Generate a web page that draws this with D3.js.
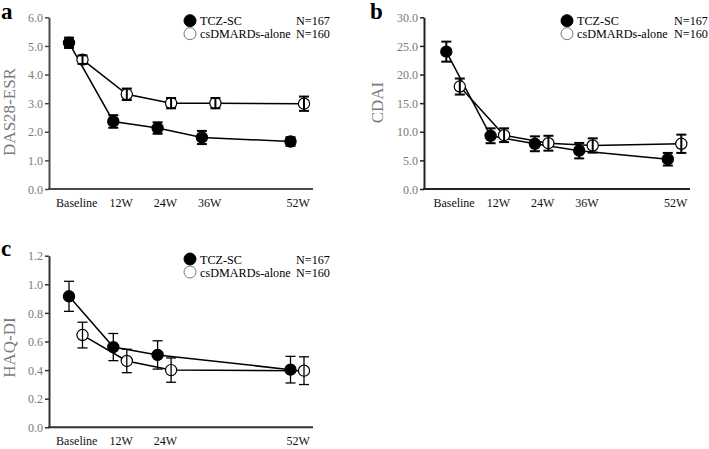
<!DOCTYPE html>
<html>
<head>
<meta charset="utf-8">
<script src="https://cdn.jsdelivr.net/npm/d3@7"></script>
<style>
  html, body { margin: 0; padding: 0; background: #fff; }
  svg { display: block; }
  svg text { font-family: "Liberation Serif", "Times New Roman", serif; }
</style>
</head>
<body>
<svg id="chart" width="709" height="449" font-family="Liberation Serif, serif"></svg>
<script>
// ---- data ----
const timepoints = ["Baseline", "12W", "24W", "36W", "52W"];
const timeSlots = [0, 1, 2, 3, 5];
const timepointsC = ["Baseline", "12W", "24W", "52W"];
const timeSlotsC = [0, 1, 2, 5];
const seriesNames = ["TCZ-SC", "csDMARDs-alone"];
const seriesN = ["N=167", "N=160"];

const das28Tcz = [5.11, 2.36, 2.13, 1.80, 1.66];
const das28TczErr = [0.18, 0.22, 0.20, 0.23, 0.15];
const das28Cs = [4.52, 3.31, 3.00, 3.00, 2.98];
const das28CsErr = [0.15, 0.20, 0.18, 0.18, 0.25];
const das28Ticks = [0, 1, 2, 3, 4, 5, 6];

const cdaiTcz = [24.0, 9.3, 7.9, 6.7, 5.2];
const cdaiTczErr = [1.75, 1.3, 1.3, 1.35, 1.1];
const cdaiCs = [17.9, 9.4, 8.0, 7.6, 7.9];
const cdaiCsErr = [1.4, 1.2, 1.3, 1.25, 1.6];
const cdaiTicks = [0, 5, 10, 15, 20, 25, 30];

const haqTcz = [0.916, 0.561, 0.506, 0.403];
const haqTczErr = [0.105, 0.095, 0.099, 0.093];
const haqCs = [0.645, 0.464, 0.400, 0.396];
const haqCsErr = [0.090, 0.082, 0.085, 0.097];
const haqTicks = [0, 0.2, 0.4, 0.6, 0.8, 1.0, 1.2];

// ---- drawing ----
const svg = d3.select("#chart");
const FONT = "Liberation Serif, serif";

function drawPanel(cfg) {
  const g = svg.append("g");
  const y = d3.scaleLinear().domain([cfg.ticks[0], cfg.ticks[cfg.ticks.length - 1]])
    .range([cfg.yBottom, cfg.yTop]);
  const x = d3.scaleLinear().domain([0, 5]).range([cfg.xFirst, cfg.xFirst + 5 * 44.3]);
  const dx = 13.5;

  // axes
  const yAxis = d3.axisLeft(y).tickValues(cfg.ticks).tickSize(4).tickSizeOuter(0)
    .tickFormat(d3.format(".1f"));
  const ya = g.append("g").attr("transform", `translate(${cfg.axisX},0)`).call(yAxis)
    .attr("font-family", FONT);
  ya.select(".domain").attr("stroke", cfg.axisColor).attr("stroke-width", 2);
  ya.selectAll(".tick line").attr("stroke", cfg.axisColor).attr("stroke-width", 1.5);
  ya.selectAll(".tick text").attr("fill", "#7a7a7a").attr("font-size", 12)
    .attr("font-family", FONT).attr("x", -6).attr("dy", "0.35em");

  g.append("line").attr("x1", cfg.axisX - 1).attr("x2", cfg.axisRight)
    .attr("y1", y(0)).attr("y2", y(0))
    .attr("stroke", cfg.axisColor).attr("stroke-width", 2);

  // x labels
  g.selectAll(".xl").data(cfg.labels).enter().append("text")
    .attr("x", (d, i) => x(cfg.slots[i]) + dx / 2 + 1)
    .attr("y", cfg.yBottom + 18)
    .attr("text-anchor", "middle").attr("font-size", 12).attr("fill", "#111")
    .attr("font-family", FONT)
    .text(d => d);

  // y title
  g.append("text")
    .attr("transform", `translate(${cfg.titleX},${cfg.titleY}) rotate(-90)`)
    .attr("text-anchor", "middle").attr("font-size", 17).attr("fill", "#7a7a7a")
    .attr("font-family", FONT)
    .text(cfg.title);

  // panel letter
  g.append("text").attr("x", cfg.letterX).attr("y", cfg.letterY)
    .attr("font-size", 23).attr("font-weight", "bold").attr("fill", "#000")
    .attr("font-family", FONT)
    .text(cfg.letter);

  const series = [
    { vals: cfg.tcz, errs: cfg.tczErr, off: 0, fill: "#000" },
    { vals: cfg.cs, errs: cfg.csErr, off: dx, fill: "#fff" }
  ];
  const line = d3.line().x(d => d[0]).y(d => d[1]);
  series.forEach(s => {
    const pts = s.vals.map((v, i) => [x(cfg.slots[i]) + s.off, y(v)]);
    g.append("path").attr("d", line(pts)).attr("fill", "none")
      .attr("stroke", "#000").attr("stroke-width", 1.5);
  });
  series.forEach(s => {
    const pts = s.vals.map((v, i) => ({ px: x(cfg.slots[i]) + s.off, v, e: s.errs[i] }));
    g.selectAll(null).data(pts).enter().append("circle")
      .attr("cx", d => d.px).attr("cy", d => y(d.v)).attr("r", 5.6)
      .attr("fill", s.fill).attr("stroke", "#000").attr("stroke-width", 1.2);
    const eb = g.selectAll(null).data(pts).enter().append("g")
      .attr("stroke", "#000").attr("stroke-width", cfg.errWidth);
    eb.append("line").attr("x1", d => d.px).attr("x2", d => d.px)
      .attr("y1", d => y(d.v - d.e)).attr("y2", d => y(d.v + d.e));
    eb.append("line").attr("x1", d => d.px - 5).attr("x2", d => d.px + 5)
      .attr("y1", d => y(d.v - d.e)).attr("y2", d => y(d.v - d.e));
    eb.append("line").attr("x1", d => d.px - 5).attr("x2", d => d.px + 5)
      .attr("y1", d => y(d.v + d.e)).attr("y2", d => y(d.v + d.e));
  });

  // legend
  const lg = g.append("g");
  [0, 1].forEach(i => {
    const ly = cfg.legendY + i * 13;
    lg.append("circle").attr("cx", cfg.legendX).attr("cy", ly).attr("r", 6)
      .attr("fill", i === 0 ? "#000" : "#fff").attr("stroke", i === 0 ? "#000" : "#777")
      .attr("stroke-width", 1);
    lg.append("text").attr("x", cfg.legendX + 10).attr("y", ly + 4.5)
      .attr("font-size", 12.2).attr("fill", "#000").attr("font-family", FONT)
      .text(seriesNames[i]);
    lg.append("text").attr("x", cfg.legendNX).attr("y", ly + 4.5)
      .attr("font-size", 12.2).attr("fill", "#000").attr("font-family", FONT)
      .text(seriesN[i]);
  });
}

drawPanel({
  letter: "a", letterX: 1, letterY: 19,
  title: "DAS28-ESR", titleX: 15, titleY: 112,
  ticks: das28Ticks, yTop: 17.3, yBottom: 189,
  axisX: 49, axisRight: 313, axisColor: "#4a4a4a",
  xFirst: 69, labels: timepoints, slots: timeSlots,
  tcz: das28Tcz, tczErr: das28TczErr, cs: das28Cs, csErr: das28CsErr,
  errWidth: 2, legendX: 190, legendY: 20.7, legendNX: 296
});

drawPanel({
  letter: "b", letterX: 370, letterY: 19,
  title: "CDAI", titleX: 383, titleY: 102.5,
  ticks: cdaiTicks, yTop: 17.3, yBottom: 189,
  axisX: 424, axisRight: 690, axisColor: "#222",
  xFirst: 446.3, labels: timepoints, slots: timeSlots,
  tcz: cdaiTcz, tczErr: cdaiTczErr, cs: cdaiCs, csErr: cdaiCsErr,
  errWidth: 2, legendX: 567, legendY: 20.7, legendNX: 674
});

drawPanel({
  letter: "c", letterX: 1, letterY: 256,
  title: "HAQ-DI", titleX: 15, titleY: 347.5,
  ticks: haqTicks, yTop: 255.7, yBottom: 427.3,
  axisX: 49, axisRight: 313, axisColor: "#333",
  xFirst: 69, labels: timepointsC, slots: timeSlotsC,
  tcz: haqTcz, tczErr: haqTczErr, cs: haqCs, csErr: haqCsErr,
  errWidth: 1.3, legendX: 190, legendY: 259, legendNX: 296
});
</script>
</body>
</html>
